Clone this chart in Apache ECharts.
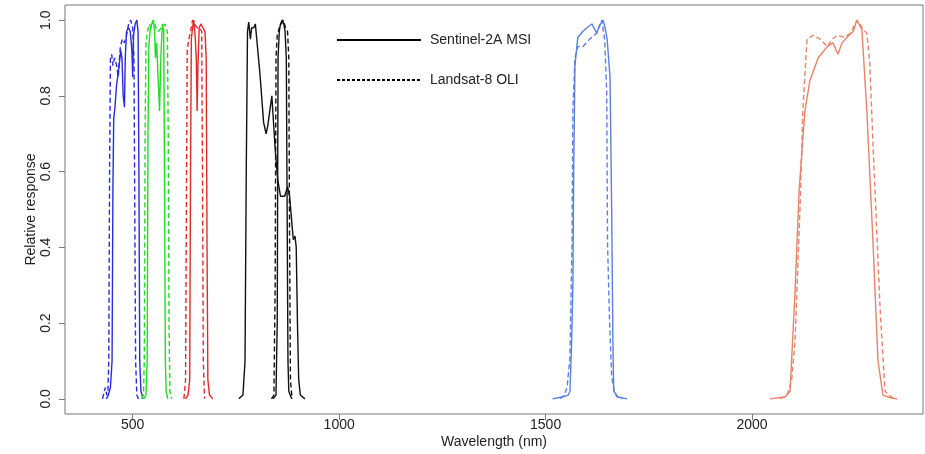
<!DOCTYPE html>
<html style="height: 100%; width: 100%">
<head>
  <meta charset="utf-8" />
</head>
<body style="height: 100%; width: 100%; margin: 0; background: #fff;">
  <div id="chart-panel" style="height: 454px; width: 925px;"></div>
  <script type="text/javascript" src="https://cdn.jsdelivr.net/npm/echarts@6/dist/echarts.min.js"></script>
  <script type="text/javascript">
    // [wavelength nm, relative response]
    var s2Blue = [[436,0],[441,0.01],[446,0.03],[450,0.1],[452,0.55],[454,0.74],[457,0.77],[461,0.83],[465,0.86],[468,0.86],[471,0.92],[474,0.9],[477,0.8],[480,0.77],[482,0.9],[485,0.97],[490,0.98],[494,0.97],[498,0.92],[500,0.85],[502,0.96],[506,0.99],[510,1.0],[513,0.97],[515,0.6],[517,0.1],[520,0.02],[525,0]];
    var l8Blue = [[427,0],[431,0.02],[434,0.03],[437,0.01],[440,0.02],[442,0.1],[444,0.6],[446,0.9],[449,0.91],[452,0.88],[456,0.9],[461,0.88],[465,0.85],[470,0.93],[475,0.95],[480,0.94],[485,0.96],[490,0.99],[495,1.0],[500,0.98],[503,0.9],[505,0.5],[507,0.1],[510,0.01],[514,0]];
    var s2Green = [[527,0],[532,0.01],[535,0.1],[537,0.7],[539,0.93],[542,0.97],[546,0.99],[550,1.0],[553,0.97],[555,0.9],[558,0.94],[561,0.86],[565,0.76],[568,0.9],[572,0.99],[575,0.97],[577,0.6],[579,0.1],[581,0.02],[585,0]];
    var l8Green = [[521,0],[526,0.01],[528,0.1],[530,0.7],[532,0.94],[536,0.97],[540,0.99],[545,0.98],[550,1.0],[556,0.98],[562,0.97],[570,0.98],[578,0.99],[584,0.97],[586,0.7],[588,0.2],[590,0.02],[594,0]];
    var s2Red = [[628,0],[634,0.01],[638,0.05],[640,0.6],[642,0.95],[645,0.98],[648,1.0],[651,0.96],[654,0.9],[656,0.76],[658,0.88],[661,0.98],[665,0.99],[670,0.98],[675,0.97],[678,0.9],[680,0.4],[682,0.05],[686,0.01],[694,0]];
    var l8Red = [[624,0],[628,0.05],[630,0.5],[632,0.92],[636,0.95],[640,0.97],[645,1.0],[650,0.99],[656,0.98],[662,0.98],[667,0.97],[669,0.6],[671,0.1],[674,0]];
    var s2Nir = [[757,0],[767,0.01],[772,0.1],[775,0.6],[778,0.97],[781,0.995],[785,0.95],[788,0.98],[793,0.98],[797,0.99],[800,0.99],[808,0.86],[817,0.73],[823,0.7],[827,0.72],[837,0.8],[845,0.66],[851,0.58],[858,0.535],[868,0.535],[875,0.56],[880,0.535],[885,0.47],[889,0.42],[893,0.43],[896,0.4],[899,0.2],[902,0.05],[906,0.01],[917,0]];
    var s2NirNarrow = [[840,0],[847,0.01],[850,0.2],[852,0.9],[855,0.97],[858,0.99],[862,1.0],[866,0.99],[869,0.97],[872,0.9],[874,0.5],[876,0.1],[878,0.02],[885,0]];
    var l8Nir = [[836,0],[842,0.01],[845,0.3],[847,0.9],[850,0.96],[855,0.98],[860,0.99],[865,1.0],[870,0.98],[875,0.97],[878,0.9],[880,0.4],[882,0.05],[886,0]];
    var s2Swir1 = [[1517,0],[1540,0.005],[1555,0.01],[1559,0.02],[1563,0.15],[1566,0.3],[1568,0.6],[1571,0.88],[1578,0.955],[1590,0.97],[1600,0.98],[1612,0.99],[1619,0.975],[1624,0.966],[1630,0.985],[1639,1.0],[1644,0.98],[1649,0.95],[1656,0.85],[1660,0.5],[1663,0.15],[1665,0.02],[1675,0.005],[1697,0]];
    var l8Swir1 = [[1535,0],[1545,0.01],[1552,0.03],[1559,0.11],[1564,0.41],[1566,0.76],[1571,0.9],[1578,0.93],[1590,0.93],[1607,0.95],[1624,0.966],[1636,1.0],[1643,0.95],[1648,0.81],[1650,0.41],[1655,0.2],[1660,0.06],[1666,0.02],[1673,0.005],[1685,0]];
    var s2Swir2 = [[2043,0],[2080,0.005],[2092,0.02],[2104,0.28],[2114,0.55],[2128,0.76],[2140,0.84],[2160,0.9],[2182,0.93],[2196,0.94],[2208,0.91],[2218,0.94],[2230,0.955],[2245,0.97],[2254,1.0],[2266,0.975],[2278,0.76],[2293,0.41],[2305,0.1],[2317,0.01],[2335,0.003],[2351,0]];
    var l8Swir2 = [[2068,0],[2085,0.01],[2096,0.05],[2104,0.15],[2116,0.5],[2123,0.76],[2133,0.95],[2148,0.96],[2165,0.95],[2182,0.93],[2195,0.95],[2206,0.96],[2222,0.955],[2238,0.965],[2254,1.0],[2270,0.975],[2278,0.965],[2285,0.89],[2293,0.67],[2310,0.24],[2322,0.02],[2340,0.003],[2351,0]];

    var xTicks = [500, 1000, 1500, 2000];
    var yTicks = [0, 0.2, 0.4, 0.6, 0.8, 1.0];
    var legendNames = ["Sentinel-2A MSI", "Landsat-8 OLI"];

    var bands = [
      [s2Blue, "#2a2ae0", "solid"], [l8Blue, "#2a2ae0", "dashed"],
      [s2Green, "#22dd22", "solid"], [l8Green, "#22dd22", "dashed"],
      [s2Red, "#e02a2a", "solid"], [l8Red, "#e02a2a", "dashed"],
      [s2Nir, "#111111", "solid"], [s2NirNarrow, "#111111", "solid"], [l8Nir, "#111111", "dashed"],
      [s2Swir1, "#5a7fe0", "solid"], [l8Swir1, "#5a7fe0", "dashed"],
      [s2Swir2, "#e6836a", "solid"], [l8Swir2, "#e6836a", "dashed"],
    ];

    var font = "Liberation Sans, Arial, sans-serif";
    var myChart = echarts.init(document.getElementById("chart-panel"));

    var series = bands.map(function (b) {
      return {
        type: "line",
        data: b[0],
        symbol: "none",
        silent: true,
        lineStyle: { color: b[1], width: 1.4, type: b[2] === "dashed" ? [5, 3] : "solid" },
      };
    });
    // legend-only series
    series.push({ name: legendNames[0], type: "line", data: [], symbol: "none",
      lineStyle: { color: "#000", width: 1.4, type: "solid" }, itemStyle: { color: "#000" } });
    series.push({ name: legendNames[1], type: "line", data: [], symbol: "none",
      lineStyle: { color: "#000", width: 1, type: [3, 2] }, itemStyle: { color: "#000" } });

    var option = {
      animation: false,
      backgroundColor: "#fff",
      textStyle: { fontFamily: font },
      grid: {
        left: 65, right: 2, top: 5, bottom: 38,
        show: true, borderColor: "#777", borderWidth: 1,
      },
      legend: {
        data: legendNames,
        orient: "vertical",
        left: 336,
        top: 33,
        padding: 0,
        itemWidth: 84,
        itemHeight: 14,
        itemGap: 26,
        selectedMode: false,
        itemStyle: { opacity: 0 },
        textStyle: { fontSize: 14, color: "#222", fontFamily: font, padding: [0, 0, 0, 4] },
      },
      xAxis: {
        type: "value",
        min: 336,
        max: 2414,
        name: "Wavelength (nm)",
        nameLocation: "middle",
        nameGap: 21,
        nameMoveOverlap: false,
        nameTextStyle: { fontSize: 14, color: "#222", fontFamily: font },
        axisLine: { show: false, onZero: false },
        splitLine: { show: false },
        axisTick: { show: true, customValues: xTicks, length: 6, lineStyle: { color: "#777" } },
        axisLabel: {
          customValues: xTicks, fontSize: 14, color: "#222", margin: 4,
          formatter: function (v) { return String(v); },
        },
      },
      yAxis: {
        type: "value",
        min: -0.04,
        max: 1.04,
        name: "Relative response",
        nameLocation: "middle",
        nameGap: 27,
        nameMoveOverlap: false,
        nameTextStyle: { fontSize: 14, color: "#222", fontFamily: font },
        axisLine: { show: false, onZero: false },
        splitLine: { show: false },
        axisTick: { show: true, customValues: yTicks, length: 6, lineStyle: { color: "#777" } },
        axisLabel: {
          customValues: yTicks, fontSize: 14, color: "#222", rotate: 90, margin: 12,
          formatter: function (v) { return v.toFixed(1); },
        },
      },
      series: series,
    };
    myChart.setOption(option);
  </script>
</body>
</html>
